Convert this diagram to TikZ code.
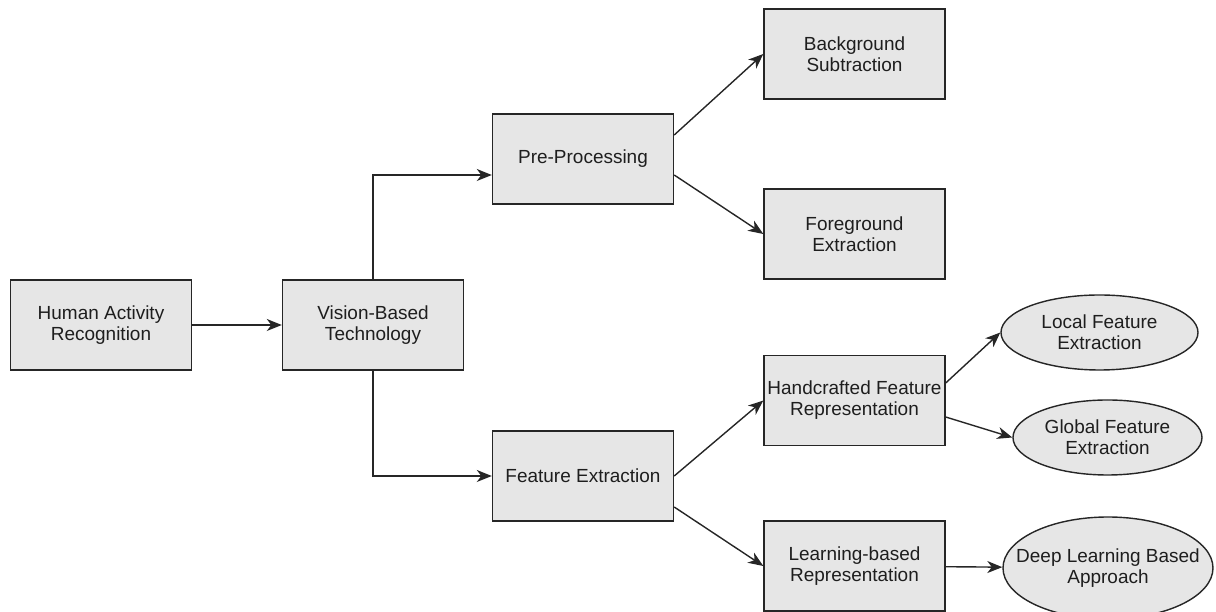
\documentclass[tikz,border=0pt]{standalone}
\usepackage{fontspec}
\setmainfont{Liberation Sans}
\usepackage{xcolor}
\usepackage{tikz}
\usetikzlibrary{shapes, positioning, calc, arrows.meta}

\definecolor{boxfill}{RGB}{230,230,230}
\definecolor{boxtext}{RGB}{30,30,30}

\begin{document}
\begin{tikzpicture}
			\tikzstyle{stage}=[draw=black!85, line width=0.8pt, minimum height=18mm, minimum width=36.2mm, fill=boxfill, text=boxtext, align=center, inner sep=1pt, font=\fontsize{10.8}{12}\selectfont]
			\tikzstyle{method}=[stage, ellipse, inner ysep=0pt, minimum height=15mm]
			\tikzstyle{link}=[-{Stealth[length=3mm, width=2.4mm, inset=0.9mm]}, line width=0.8pt, black!85]
			
			\useasboundingbox (0,0) rectangle (24.32,12.24);
			
			\node (har) at (2.02,5.74) [stage] {Human Activity\\Recognition};
			\node (vbt) at (7.46,5.74) [stage] {Vision-Based\\Technology};
			
			\node (pre) at (11.66,9.06) [stage] {Pre-Processing};
			\node (fex) at (11.66,2.72) [stage] {Feature Extraction};
			
			\node (bgs) at (17.09,11.16) [stage] {Background\\Subtraction};
			\node (fgx) at (17.09,7.56) [stage] {Foreground\\Extraction};
			\node (hcr) at (17.09,4.23) [stage] {Handcrafted Feature\\Representation};
			\node (lbr) at (17.09,0.92) [stage] {Learning-based\\Representation};
			
			\node (loc) at (21.99,5.59) [method, minimum width=39.4mm] {Local Feature\\Extraction};
			\node (glb) at (22.15,3.49) [method, minimum width=37.8mm] {Global Feature\\Extraction};
			\node (dla) at (22.16,0.88) [method, minimum width=42mm, minimum height=20.4mm, inner xsep=-3.6mm] {Deep Learning Based\\Approach};
			
			\coordinate (pre-in) at ($(pre.west)+(0,-0.32)$);
			
			\draw [link] (har) -- (vbt);
			\draw [link] (vbt.north) |- (pre-in);
			\draw [link] (vbt.south) |- (fex.west);
			
			\draw [link] ($(pre.east)+(0,0.48)$) -- (bgs.west);
			\draw [link] ($(pre.east)+(0,-0.32)$) -- (fgx.west);
			\draw [link] (fex.east) -- (hcr.west);
			\draw [link] ($(fex.east)+(0,-0.62)$) -- (lbr.west);
			
			\draw [link] ($(hcr.east)+(0,0.35)$) -- (loc.west);
			\draw [link] ($(hcr.east)+(0,-0.33)$) -- (glb.west);
			\draw [link] (lbr) -- (dla);
			
			%%\draw [link] (vbt) -- (pre);
\end{tikzpicture}
\end{document}
